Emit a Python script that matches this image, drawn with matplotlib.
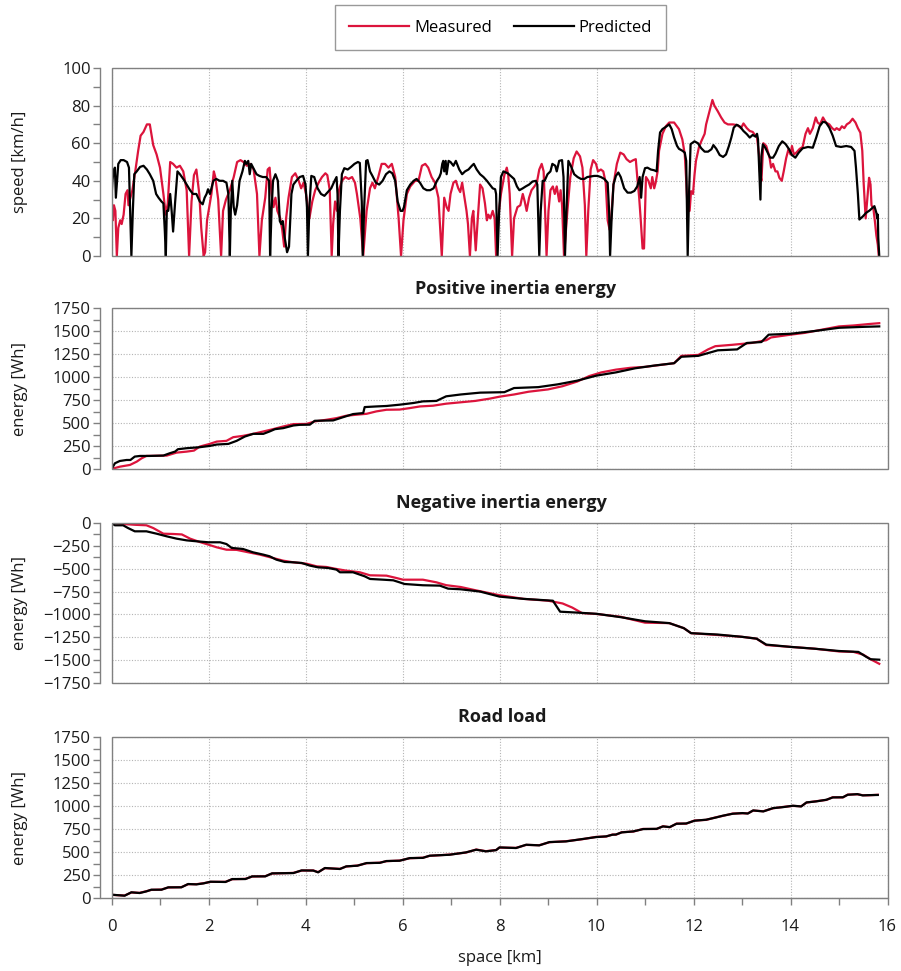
import matplotlib
matplotlib.use("Agg")
import matplotlib.pyplot as plt
from matplotlib.lines import Line2D
from matplotlib.patches import Rectangle
from matplotlib.ticker import MultipleLocator

plt.rcParams['font.family'] = ['Open Sans', 'DejaVu Sans']

# ---------------- data: (space [km], value) ----------------
speed_measured = [
    (0.00, 27), (0.03, 19), (0.05, 27), (0.08, 24), (0.11, 0), (0.14, 15), (0.18, 19), (0.21, 17),
    (0.25, 22), (0.29, 33), (0.33, 35), (0.35, 27), (0.39, 31), (0.43, 35), (0.49, 45), (0.55, 56),
    (0.60, 64), (0.66, 66), (0.73, 70), (0.79, 70), (0.86, 59), (0.93, 54), (1.00, 47), (1.07, 33),
    (1.12, 22), (1.16, 28), (1.21, 50), (1.27, 49), (1.34, 47), (1.41, 48), (1.48, 45), (1.55, 35),
    (1.60, 0), (1.65, 29), (1.70, 43), (1.75, 46), (1.81, 33), (1.85, 15), (1.90, 0), (1.93, 2),
    (1.97, 19), (2.06, 33), (2.11, 45), (2.14, 42), (2.20, 30), (2.26, 0), (2.30, 24), (2.36, 30),
    (2.44, 35), (2.52, 42), (2.59, 50), (2.66, 51), (2.72, 50), (2.79, 48), (2.86, 49), (2.93, 46),
    (3.00, 33), (3.05, 0), (3.10, 19), (3.17, 31), (3.22, 46), (3.26, 47), (3.30, 33), (3.34, 26),
    (3.38, 31), (3.42, 24), (3.48, 20), (3.52, 14), (3.56, 5), (3.60, 20), (3.65, 31), (3.72, 42),
    (3.79, 44), (3.86, 40), (3.91, 36), (3.96, 39), (4.01, 33), (4.08, 20), (4.14, 29), (4.20, 35),
    (4.27, 39), (4.34, 42), (4.41, 44), (4.45, 43), (4.50, 35), (4.54, 0), (4.57, 17), (4.61, 29),
    (4.65, 24), (4.69, 35), (4.75, 40), (4.82, 42), (4.89, 41), (4.96, 42), (5.02, 39), (5.06, 33),
    (5.13, 20), (5.19, 0), (5.26, 24), (5.33, 36), (5.38, 39), (5.43, 36), (5.50, 42), (5.57, 49),
    (5.64, 49), (5.71, 47), (5.78, 49), (5.85, 42), (5.92, 20), (5.97, 0), (6.02, 19), (6.09, 33),
    (6.16, 37), (6.26, 40), (6.33, 40), (6.40, 48), (6.47, 49), (6.53, 47), (6.60, 42), (6.67, 39),
    (6.74, 31), (6.81, 0), (6.86, 31), (6.91, 26), (6.95, 24), (6.99, 33), (7.05, 39), (7.10, 40),
    (7.15, 36), (7.19, 34), (7.23, 39), (7.26, 34), (7.32, 24), (7.35, 17), (7.39, 0), (7.43, 20),
    (7.46, 24), (7.51, 3), (7.55, 19), (7.60, 38), (7.65, 36), (7.70, 28), (7.74, 19), (7.77, 22),
    (7.81, 20), (7.86, 24), (7.90, 20), (7.93, 0), (7.99, 24), (8.03, 33), (8.10, 43), (8.15, 47),
    (8.18, 43), (8.21, 33), (8.26, 0), (8.30, 20), (8.37, 26), (8.43, 27), (8.48, 33), (8.52, 29),
    (8.56, 24), (8.61, 31), (8.66, 35), (8.72, 37), (8.77, 39), (8.82, 46), (8.87, 49), (8.91, 45),
    (8.94, 24), (8.97, 0), (9.01, 24), (9.05, 35), (9.10, 37), (9.14, 33), (9.18, 37), (9.23, 29),
    (9.26, 35), (9.29, 27), (9.33, 0), (9.40, 24), (9.46, 42), (9.53, 52), (9.59, 55.6), (9.66, 53),
    (9.71, 47), (9.76, 27), (9.79, 0), (9.83, 24), (9.88, 46), (9.93, 51), (9.99, 49), (10.03, 45),
    (10.09, 46), (10.14, 45), (10.19, 39), (10.23, 19), (10.27, 14), (10.30, 19), (10.35, 38),
    (10.42, 49), (10.49, 55), (10.56, 54), (10.62, 51.5), (10.69, 50), (10.76, 51), (10.81, 51.5),
    (10.84, 42), (10.88, 31), (10.91, 20), (10.95, 4), (10.98, 4), (11.02, 42), (11.07, 40),
    (11.12, 36), (11.15, 42), (11.19, 36), (11.22, 39), (11.26, 45), (11.29, 56), (11.36, 65),
    (11.43, 69), (11.50, 71), (11.60, 71), (11.70, 67.5), (11.77, 62), (11.82, 54), (11.85, 40),
    (11.88, 24), (11.92, 24), (11.95, 34.5), (11.99, 33), (12.02, 43), (12.05, 50.5), (12.11, 57.6),
    (12.16, 61), (12.23, 65), (12.26, 70), (12.33, 77), (12.39, 83), (12.43, 80), (12.50, 77),
    (12.57, 73.7), (12.64, 71), (12.71, 70), (12.81, 70), (12.91, 69.6), (12.98, 68), (13.03, 70.5),
    (13.10, 68), (13.16, 66.5), (13.22, 66), (13.28, 64), (13.31, 63), (13.35, 54), (13.37, 45),
    (13.40, 40), (13.44, 60), (13.50, 58.5), (13.54, 55), (13.57, 52), (13.60, 47), (13.64, 49),
    (13.69, 45), (13.73, 45), (13.77, 41.6), (13.82, 40), (13.86, 45), (13.91, 52), (13.96, 57),
    (14.00, 54), (14.03, 58.5), (14.07, 54), (14.12, 55), (14.19, 57), (14.25, 58), (14.31, 65),
    (14.36, 68), (14.40, 65), (14.46, 68), (14.52, 73.7), (14.56, 71), (14.61, 70), (14.67, 73.7),
    (14.73, 71), (14.80, 70), (14.86, 68), (14.91, 67), (14.95, 68), (15.01, 67), (15.06, 69),
    (15.11, 68), (15.16, 70), (15.22, 71), (15.28, 73), (15.34, 71), (15.39, 68), (15.44, 65.6),
    (15.48, 56), (15.51, 38), (15.55, 20), (15.58, 29), (15.62, 41.6), (15.65, 38), (15.67, 27),
    (15.71, 25), (15.74, 18.5), (15.77, 11), (15.80, 6), (15.82, 0),
]

speed_predicted = [
    (0.00, 31), (0.02, 40), (0.04, 45), (0.07, 47), (0.09, 31), (0.11, 38), (0.14, 49), (0.19, 51),
    (0.25, 51), (0.32, 50), (0.36, 47), (0.38, 29), (0.41, 0), (0.44, 24), (0.47, 43.5), (0.52, 45),
    (0.59, 47.4), (0.66, 48), (0.73, 46), (0.79, 43.5), (0.86, 40), (0.92, 33), (0.97, 31),
    (1.03, 29), (1.07, 28), (1.10, 13), (1.12, 0), (1.14, 24), (1.17, 24), (1.21, 33), (1.24, 24),
    (1.27, 13), (1.31, 28), (1.36, 45), (1.41, 43.5), (1.48, 41), (1.55, 38), (1.62, 35), (1.68, 33),
    (1.75, 33), (1.82, 29), (1.88, 27.5), (1.92, 31), (1.96, 33), (1.99, 35.5), (2.03, 33),
    (2.10, 40), (2.16, 41), (2.23, 40), (2.30, 40), (2.37, 39), (2.41, 33), (2.44, 0), (2.46, 24),
    (2.49, 40), (2.52, 26), (2.55, 22), (2.59, 27), (2.64, 40), (2.70, 45), (2.75, 50.6), (2.78, 49),
    (2.82, 50.6), (2.85, 43.5), (2.88, 49), (2.92, 47), (2.99, 43.5), (3.05, 42.6), (3.12, 42),
    (3.19, 42), (3.25, 40), (3.27, 0), (3.30, 24), (3.33, 40), (3.38, 43.5), (3.43, 40), (3.47, 18.6),
    (3.50, 17), (3.53, 18.6), (3.57, 10), (3.62, 2), (3.66, 5), (3.71, 33), (3.75, 38), (3.81, 40),
    (3.88, 42), (3.95, 42.6), (4.00, 38), (4.03, 26), (4.05, 0), (4.08, 26), (4.12, 42.6),
    (4.18, 42), (4.25, 36), (4.32, 33), (4.39, 32), (4.46, 34), (4.53, 36), (4.60, 40), (4.64, 42),
    (4.66, 33), (4.68, 0), (4.71, 24), (4.75, 43.5), (4.80, 46.7), (4.87, 46), (4.94, 47.4),
    (5.01, 49), (5.08, 50), (5.12, 49.5), (5.16, 29), (5.18, 0), (5.21, 26), (5.25, 50.6), (5.28, 51),
    (5.33, 45), (5.38, 42.6), (5.45, 39), (5.52, 38), (5.59, 40), (5.66, 43.5), (5.73, 45),
    (5.79, 44), (5.85, 40), (5.90, 29), (5.96, 24), (6.00, 24), (6.03, 26), (6.09, 35), (6.16, 38),
    (6.23, 40), (6.29, 41), (6.36, 39), (6.43, 36), (6.50, 35), (6.57, 35), (6.64, 36), (6.71, 40),
    (6.76, 42), (6.79, 44), (6.82, 49), (6.84, 50.6), (6.86, 45), (6.89, 50.6), (6.91, 43.5),
    (6.95, 50.6), (6.99, 50), (7.05, 48), (7.10, 50.6), (7.17, 46), (7.23, 43.5), (7.29, 45),
    (7.36, 46), (7.43, 48), (7.47, 49), (7.53, 46), (7.60, 43.5), (7.67, 42), (7.74, 40), (7.80, 38),
    (7.86, 36), (7.91, 35.5), (7.93, 33), (7.96, 0), (7.99, 22), (8.03, 42), (8.08, 45), (8.17, 44),
    (8.23, 42.6), (8.30, 41), (8.36, 37), (8.41, 35), (8.48, 36), (8.54, 37), (8.61, 38),
    (8.68, 39.6), (8.75, 40), (8.78, 38), (8.82, 0), (8.85, 24), (8.89, 40), (8.93, 40), (8.99, 43.5),
    (9.05, 45), (9.09, 49), (9.15, 48), (9.18, 45), (9.23, 50.6), (9.29, 51), (9.32, 42), (9.35, 0),
    (9.38, 24), (9.42, 50.6), (9.47, 48), (9.54, 43.5), (9.61, 42), (9.68, 41), (9.75, 41),
    (9.81, 42), (9.88, 42.3), (9.95, 42.6), (10.02, 42.6), (10.09, 42), (10.16, 41), (10.23, 39),
    (10.26, 24), (10.28, 0), (10.31, 19), (10.35, 38), (10.40, 42.6), (10.45, 44.4), (10.50, 42),
    (10.57, 36), (10.64, 33.7), (10.71, 33.7), (10.78, 34.6), (10.84, 37), (10.89, 42), (10.92, 31),
    (10.95, 42), (11.00, 46.7), (11.05, 47), (11.12, 46), (11.19, 45.6), (11.24, 45), (11.27, 56),
    (11.31, 65.7), (11.36, 67.5), (11.43, 68.7), (11.50, 70), (11.55, 67.5), (11.60, 63),
    (11.66, 58.6), (11.70, 57), (11.77, 56), (11.82, 55), (11.85, 50.6), (11.88, 0), (11.91, 35),
    (11.94, 59.5), (12.02, 61), (12.09, 60), (12.16, 57.3), (12.23, 55.5), (12.30, 55.5),
    (12.37, 56.8), (12.41, 59), (12.47, 57), (12.54, 53.7), (12.61, 52.7), (12.67, 54), (12.73, 58.5),
    (12.78, 63), (12.83, 68.3), (12.89, 69.8), (12.96, 68.8), (13.03, 66.5), (13.10, 64.8),
    (13.16, 63), (13.22, 64.4), (13.28, 63.5), (13.31, 65), (13.33, 62), (13.36, 43.4), (13.38, 30),
    (13.40, 53), (13.43, 59.4), (13.48, 57.6), (13.53, 55), (13.58, 52.3), (13.64, 52.3),
    (13.69, 54.4), (13.76, 58.5), (13.83, 61), (13.90, 59.5), (13.97, 56.8), (14.03, 53.7),
    (14.10, 52.3), (14.17, 55), (14.25, 57.3), (14.36, 58), (14.46, 57.6), (14.53, 63), (14.60, 69),
    (14.67, 71.4), (14.73, 71), (14.80, 68.3), (14.87, 64), (14.94, 58.5), (15.04, 58),
    (15.15, 58.5), (15.25, 58), (15.32, 55.9), (15.35, 47), (15.39, 32.7), (15.42, 19.4),
    (15.49, 21), (15.56, 23), (15.63, 24.2), (15.69, 25.6), (15.73, 26.5), (15.77, 23), (15.79, 20),
    (15.80, 22), (15.81, 9.6), (15.83, 0),
]

pos_measured = [
    (0, 0), (0.17, 25), (0.38, 44), (0.52, 80), (0.62, 116), (0.72, 142), (1.14, 146), (1.34, 178),
    (1.55, 189), (1.70, 200), (1.82, 244), (2.0, 269), (2.17, 298), (2.37, 306), (2.51, 346),
    (2.71, 360), (2.92, 382), (3.13, 408), (3.33, 433), (3.54, 462), (3.75, 488), (4.02, 490),
    (4.19, 517), (4.43, 535), (4.64, 553), (4.84, 579), (5.05, 590), (5.26, 600), (5.46, 626),
    (5.67, 644), (5.94, 646), (6.15, 662), (6.36, 680), (6.63, 688), (6.9, 710), (7.2, 725),
    (7.5, 740), (7.8, 765), (8.0, 786), (8.3, 810), (8.6, 840), (9.0, 865), (9.3, 900), (9.6, 950),
    (9.85, 1010), (10.1, 1050), (10.4, 1080), (10.7, 1100), (11.0, 1110), (11.3, 1130),
    (11.6, 1150), (11.75, 1230), (12.1, 1240), (12.3, 1300), (12.45, 1335), (12.8, 1350),
    (13.2, 1370), (13.5, 1400), (13.6, 1430), (14.0, 1460), (14.3, 1480), (14.6, 1510),
    (15.0, 1550), (15.3, 1560), (15.6, 1575), (15.83, 1585),
]

pos_predicted = [
    (0, 0), (0.03, 25), (0.07, 62), (0.17, 87), (0.31, 98), (0.39, 98), (0.48, 135), (0.59, 142),
    (0.79, 142), (1.07, 146), (1.2, 171), (1.31, 189), (1.37, 215), (1.55, 226), (1.82, 237),
    (2.03, 251), (2.17, 266), (2.41, 273), (2.58, 306), (2.75, 353), (2.92, 382), (3.13, 382),
    (3.26, 408), (3.37, 433), (3.54, 444), (3.75, 473), (3.88, 480), (4.09, 482), (4.19, 524),
    (4.57, 528), (4.78, 564), (4.98, 597), (5.19, 608), (5.22, 673), (5.46, 680), (5.67, 685),
    (5.94, 699), (6.22, 717), (6.42, 735), (6.7, 740), (6.9, 790), (7.2, 810), (7.6, 830),
    (8.1, 835), (8.3, 880), (8.8, 890), (9.2, 920), (9.6, 960), (10.0, 1015), (10.4, 1050),
    (10.8, 1095), (11.2, 1125), (11.6, 1150), (11.75, 1220), (12.1, 1230), (12.5, 1290),
    (12.9, 1300), (13.1, 1370), (13.4, 1380), (13.55, 1460), (14.0, 1470), (14.5, 1500),
    (15.0, 1535), (15.5, 1545), (15.83, 1550),
]

neg_measured = [
    (0, 0), (0.24, -11), (0.5, -20), (0.72, -25), (0.86, -55), (1.07, -117), (1.27, -120),
    (1.45, -125), (1.62, -171), (1.82, -208), (2.0, -237), (2.17, -266), (2.37, -292), (2.58, -294),
    (2.79, -317), (3.06, -346), (3.33, -383), (3.54, -412), (3.75, -430), (4.02, -445),
    (4.23, -474), (4.43, -481), (4.64, -503), (4.84, -521), (5.12, -539), (5.33, -572),
    (5.67, -576), (5.87, -601), (6.01, -620), (6.42, -620), (6.7, -649), (6.9, -680), (7.2, -700),
    (7.5, -735), (8.0, -790), (8.5, -830), (9.0, -850), (9.3, -880), (9.5, -925), (9.7, -985),
    (10.0, -995), (10.5, -1026), (11.0, -1090), (11.5, -1095), (11.8, -1150), (11.95, -1205),
    (12.5, -1225), (13.0, -1245), (13.3, -1265), (13.5, -1335), (14.0, -1355), (14.5, -1375),
    (15.0, -1405), (15.3, -1410), (15.5, -1440), (15.65, -1490), (15.83, -1540),
]

neg_predicted = [
    (0, 0), (0.07, -25), (0.24, -25), (0.34, -55), (0.48, -91), (0.72, -91), (0.93, -117),
    (1.14, -146), (1.34, -171), (1.55, -190), (1.75, -200), (2.0, -211), (2.24, -211), (2.37, -230),
    (2.48, -273), (2.71, -284), (2.92, -321), (3.13, -346), (3.26, -364), (3.4, -401), (3.57, -426),
    (3.75, -430), (3.92, -437), (4.09, -466), (4.26, -485), (4.47, -492), (4.64, -510),
    (4.71, -539), (4.98, -539), (5.22, -583), (5.33, -612), (5.6, -620), (5.81, -627), (5.94, -649),
    (6.04, -667), (6.42, -681), (6.77, -685), (6.94, -718), (7.2, -725), (7.6, -750), (8.0, -805),
    (8.5, -830), (9.1, -850), (9.25, -970), (9.6, -980), (10.0, -993), (10.5, -1030),
    (11.0, -1075), (11.5, -1095), (11.8, -1150), (11.95, -1205), (12.5, -1220), (13.0, -1245),
    (13.3, -1265), (13.5, -1330), (14.0, -1355), (14.5, -1375), (15.0, -1400), (15.4, -1410),
    (15.55, -1460), (15.65, -1490), (15.83, -1495),
]

road_predicted = [
    (0, 36), (0.27, 25), (0.41, 62), (0.58, 54), (0.72, 72), (0.82, 90), (1.03, 90), (1.17, 116),
    (1.44, 116), (1.58, 152), (1.75, 148), (1.9, 159), (2.04, 177), (2.35, 174), (2.49, 206),
    (2.76, 206), (2.9, 235), (3.17, 235), (3.31, 268), (3.75, 271), (3.92, 300), (4.16, 298),
    (4.26, 279), (4.4, 326), (4.71, 315), (4.84, 344), (5.07, 351), (5.26, 380), (5.53, 382),
    (5.67, 402), (5.94, 405), (6.15, 434), (6.42, 436), (6.56, 460), (6.97, 470), (7.31, 496),
    (7.52, 525), (7.72, 507), (7.93, 520), (8.0, 550), (8.34, 543), (8.55, 579), (8.82, 572),
    (9.03, 608), (9.37, 615), (9.71, 641), (9.99, 662), (10.2, 670), (10.33, 688), (10.4, 690),
    (10.52, 713), (10.76, 724), (10.96, 749), (11.24, 752), (11.37, 778), (11.51, 771),
    (11.65, 807), (11.85, 810), (12.02, 840), (12.26, 851), (12.47, 876), (12.6, 894),
    (12.81, 916), (13.01, 923), (13.12, 918), (13.23, 952), (13.44, 941), (13.64, 977),
    (13.85, 988), (14.05, 1003), (14.22, 995), (14.33, 1039), (14.53, 1050), (14.74, 1068),
    (14.87, 1093), (15.08, 1095), (15.18, 1122), (15.38, 1129), (15.49, 1115), (15.6, 1118),
    (15.8, 1120),
]

road_measured = [
    (0, 34), (0.27, 27), (0.41, 60), (0.58, 56), (0.72, 74), (0.82, 88), (1.03, 92), (1.17, 114),
    (1.44, 118), (1.58, 150), (1.75, 150), (1.9, 161), (2.04, 175), (2.35, 176), (2.49, 204),
    (2.76, 208), (2.9, 233), (3.17, 237), (3.31, 266), (3.75, 273), (3.92, 298), (4.16, 300),
    (4.26, 281), (4.4, 324), (4.71, 317), (4.84, 342), (5.07, 353), (5.26, 378), (5.53, 384),
    (5.67, 400), (5.94, 407), (6.15, 432), (6.42, 438), (6.56, 458), (6.97, 472), (7.31, 494),
    (7.52, 527), (7.72, 509), (7.93, 522), (8.0, 548), (8.34, 545), (8.55, 577), (8.82, 574),
    (9.03, 606), (9.37, 617), (9.71, 639), (9.99, 664), (10.2, 668), (10.33, 690), (10.4, 688),
    (10.52, 715), (10.76, 722), (10.96, 751), (11.24, 750), (11.37, 780), (11.51, 769),
    (11.65, 809), (11.85, 808), (12.02, 842), (12.26, 849), (12.47, 878), (12.6, 892),
    (12.81, 918), (13.01, 921), (13.12, 920), (13.23, 950), (13.44, 943), (13.64, 975),
    (13.85, 990), (14.05, 1001), (14.22, 997), (14.33, 1037), (14.53, 1052), (14.74, 1066),
    (14.87, 1095), (15.08, 1093), (15.18, 1124), (15.38, 1127), (15.49, 1117), (15.6, 1116),
    (15.8, 1122),
]

# ---------------- style ----------------
RED = '#dc143c'
BLACK = '#000000'
FRAME = '#808080'
GRID = '#b4b4b4'
TEXT = '#1a1a1a'
FS = 12

W, H = 901, 971
fig = plt.figure(figsize=(W / 100, H / 100), dpi=100)


def px_axes(left, top, right, bottom):
    return fig.add_axes([left / W, 1 - bottom / H, (right - left) / W, (bottom - top) / H])


def split(pairs):
    return [p[0] for p in pairs], [p[1] for p in pairs]


def style(ax, ylim, major, ylabel, bottom_axis=False):
    ax.set_xlim(0, 16)
    ax.set_ylim(*ylim)
    ax.xaxis.set_major_locator(MultipleLocator(2))
    ax.xaxis.set_minor_locator(MultipleLocator(1))
    ax.yaxis.set_major_locator(MultipleLocator(major))
    ax.yaxis.set_minor_locator(MultipleLocator(major / 2))
    ax.grid(True, which='major', linestyle=(0, (1, 1.5)), linewidth=0.8, color=GRID)
    ax.set_axisbelow(True)
    for side in ('top', 'right', 'bottom'):
        ax.spines[side].set_visible(False)
    ax.spines['left'].set_position(('outward', 8))
    ax.spines['left'].set_color(FRAME)
    ax.spines['left'].set_linewidth(1.0)
    ax.add_patch(Rectangle((0, 0), 1, 1, transform=ax.transAxes, fill=False,
                           edgecolor=FRAME, linewidth=1.0, clip_on=False, zorder=5))
    ax.tick_params(axis='y', which='both', direction='out', length=5, width=1.0,
                   color=FRAME, labelsize=FS, labelcolor=TEXT, pad=2)
    if bottom_axis:
        ax.spines['bottom'].set_visible(True)
        ax.spines['bottom'].set_color(FRAME)
        ax.tick_params(axis='x', which='both', direction='out', length=5, width=1.0,
                       color=FRAME, labelsize=FS, labelcolor=TEXT, pad=10)
        ax.plot([-11 / 776, 0], [0, 0], transform=ax.transAxes, color=FRAME,
                linewidth=1.0, clip_on=False)
    else:
        ax.tick_params(axis='x', which='both', length=0, labelbottom=False)
    ax.set_ylabel(ylabel, fontsize=FS, color=TEXT)
    ax.yaxis.set_label_coords(-0.107, 0.5)


def draw(ax, meas, pred):
    x, y = split(meas)
    ax.plot(x, y, color=RED, linewidth=1.6, zorder=3)
    x, y = split(pred)
    ax.plot(x, y, color=BLACK, linewidth=1.6, zorder=4)


ax1 = px_axes(111.5, 68, 887.5, 256)
draw(ax1, speed_measured, speed_predicted)
style(ax1, (0, 100), 20, 'speed [km/h]')

ax2 = px_axes(111.5, 308, 887.5, 469)
draw(ax2, pos_measured, pos_predicted)
style(ax2, (0, 1750), 250, 'energy [Wh]')

ax3 = px_axes(111.5, 523, 887.5, 683)
draw(ax3, neg_measured, neg_predicted)
style(ax3, (-1750, 0), 250, 'energy [Wh]')

ax4 = px_axes(111.5, 737, 887.5, 898)
draw(ax4, road_measured, road_predicted)
style(ax4, (0, 1750), 250, 'energy [Wh]', bottom_axis=True)
ax4.set_xlabel('space [km]', fontsize=FS, color=TEXT)
ax4.xaxis.set_label_coords(0.5, -0.32)

# panel titles
for label, cx, cy in (('Positive inertia energy', 516, 289),
                      ('Negative inertia energy', 501, 503),
                      ('Road load', 502, 717)):
    fig.text(cx / W, 1 - cy / H, label, ha='center', va='center',
             fontsize=13, fontweight='bold', color=TEXT)

# legend
handles = [Line2D([], [], color=RED, linewidth=1.6, label='Measured'),
           Line2D([], [], color=BLACK, linewidth=1.6, label='Predicted')]
leg = fig.legend(handles=handles, loc='center', bbox_to_anchor=(500.5 / W, 1 - 27.5 / H),
                 ncol=2, frameon=True, fancybox=False, fontsize=FS, handlelength=3.6,
                 handletextpad=0.3, columnspacing=1.3, borderpad=0.85)
leg.get_frame().set_edgecolor(FRAME)
leg.get_frame().set_linewidth(1.0)

fig.savefig('out.png', dpi=100)
